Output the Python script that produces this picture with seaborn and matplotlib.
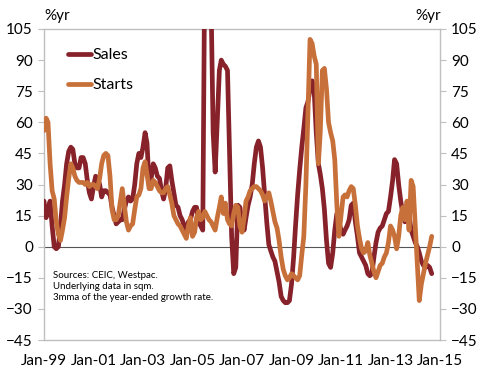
import pandas as pd
import matplotlib
matplotlib.use("Agg")
from matplotlib import pyplot as plt
import matplotlib.dates as mdates
import seaborn as sns

# monthly values, Jan-1999 onwards (%yr, 3mma)
sales = [
    22, 14, 18, 22, 10, 0, -1, 0, 10, 22, 30, 40,          # 1999
    46, 48, 47, 40, 38, 38, 43, 43, 40, 32, 26, 23,        # 2000
    29, 34, 33, 30, 24, 27, 27, 26, 25, 19, 15, 11,        # 2001
    12, 13, 13, 18, 22, 24, 22, 23, 30, 40, 45, 43,        # 2002
    48, 55, 50, 30, 33, 40, 38, 34, 33, 27, 23, 28,        # 2003
    38, 39, 32, 26, 20, 19, 15, 13, 10, 8, 12, 13,         # 2004
    17, 19, 19, 12, 10, 8, 140, 165, 150, 120, 55, 36,     # 2005
    60, 85, 90, 88, 87, 85, 45, 5, -13, -10, 20, 19,       # 2006
    12, 8, 14, 20, 24, 30, 40, 48, 51, 48, 38, 25,         # 2007
    12, 1, -2, -5, -7, -12, -17, -24, -26, -27, -27, -26,  # 2008
    -18, -5, 10, 25, 37, 48, 57, 67, 70, 76, 80, 75,       # 2009
    55, 40, 35, 28, 18, 3, -8, -10, -3, 8, 16, 12,         # 2010
    8, 6, 8, 10, 13, 20, 21, 12, 5, -3, -5, -7,            # 2011
    -9, -13, -14, -13, -5, 2, 7, 9, 10, 13, 16, 17,        # 2012
    24, 32, 42, 40, 30, 22, 16, 12, 14, 15, 8, 5,          # 2013
    2, 0, -3, -7, -9, -10, -9, -10, -13,                   # 2014
]
starts = [
    56, 62, 60, 40, 27, 23, 12, 6, 3, 8, 14, 24,           # 1999
    33, 40, 38, 34, 32, 31, 31, 31, 30, 31, 29, 30,        # 2000
    30, 29, 28, 33, 40, 44, 45, 44, 34, 18, 13, 13,        # 2001
    15, 22, 28, 20, 12, 8, 10, 11, 18, 24, 25, 28,         # 2002
    38, 41, 35, 28, 28, 32, 31, 29, 27, 26, 26, 28,        # 2003
    29, 25, 21, 15, 13, 11, 10, 8, 6, 4, 10, 14,           # 2004
    5, 7, 14, 17, 13, 14, 17, 15, 13, 12, 10, 8,           # 2005
    14, 19, 24, 16, 21, 13, 11, 10, 16, 20, 19, 10,        # 2006
    7, 14, 22, 24, 27, 28, 29, 29, 28, 27, 25, 22,         # 2007
    24, 26, 22, 17, 12, 9, 3, -5, -11, -14, -16, -15,      # 2008
    -13, -14, -15, -16, -14, -4, 5, 30, 65, 100, 98, 92,   # 2009
    88, 40, 55, 85, 86, 76, 60, 55, 51, 42, 20, 5,         # 2010
    15, 24, 25, 24, 27, 29, 28, 20, 10, 4, -1, -3,         # 2011
    -2, 2, -4, -8, -12, -15, -12, -9, -8, -5, -3, 2,       # 2012
    10, 8, 5, -1, 5, 15, 19, 13, 22, 8, 32, 29,            # 2013
    10, -10, -26, -18, -13, -8, -4, 0, 5,                  # 2014
]
series_names = ["Sales", "Starts"]
colours = ["#87222A", "#C8703A"]
y_ticks = list(range(-45, 106, 15))
x_tick_years = list(range(1999, 2016, 2))

dates = pd.date_range("1999-01-01", periods=len(sales), freq="MS")
df = pd.concat([
    pd.DataFrame({"date": dates, "value": sales, "series": "Sales"}),
    pd.DataFrame({"date": dates, "value": starts, "series": "Starts"}),
])

sns.set_style("white")
plt.rcParams["font.family"] = ["Lato", "DejaVu Sans"]
plt.rcParams["text.color"] = "black"

fig = plt.figure(figsize=(4.91, 3.80), dpi=100)
ax = fig.add_axes([44 / 491, 1 - 340 / 380, 396 / 491, 311 / 380])

ax.axhline(0, color="#555555", lw=0.8, zorder=1)
sns.lineplot(data=df, x="date", y="value", hue="series", hue_order=series_names,
             palette=colours, linewidth=3.4, ax=ax, zorder=3)

ax.set_ylim(-45, 105)
ax.set_yticks(y_ticks)
ax.set_xlim(pd.Timestamp("1999-01-01"), pd.Timestamp("2015-01-01"))
ax.set_xticks([pd.Timestamp(f"{y}-01-01") for y in x_tick_years])
ax.xaxis.set_major_formatter(mdates.DateFormatter("%b-%y"))
ax.set_xlabel("")
ax.set_ylabel("")

for side in ["left", "right", "bottom", "top"]:
    ax.spines[side].set_visible(True)
    ax.spines[side].set_color("#BFBFBF")
    ax.spines[side].set_linewidth(1)
ax.tick_params(axis="both", direction="out", length=4, color="#BFBFBF",
               labelsize=11, labelcolor="black", pad=4)
ax.tick_params(axis="y", right=True, labelright=True, left=True, labelleft=True)
ax.tick_params(axis="x", pad=6)

handles, labels = ax.get_legend_handles_labels()
ax.legend(handles, labels, loc="upper left", bbox_to_anchor=(0.025, 0.985),
          frameon=False, fontsize=11.5, handlelength=1.4, handletextpad=0.1,
          labelspacing=1.0)

fig.text(44 / 491, 1 - 16 / 380, "%yr", ha="left", va="center", fontsize=11)
fig.text(441 / 491, 1 - 16 / 380, "%yr", ha="right", va="center", fontsize=11)
ax.text(0.023, 0.222,
        "Sources: CEIC, Westpac.\nUnderlying data in sqm.\n3mma of the year-ended growth rate.",
        transform=ax.transAxes, ha="left", va="top", fontsize=7, linespacing=1.3)

fig.savefig("out.png", dpi=100)
